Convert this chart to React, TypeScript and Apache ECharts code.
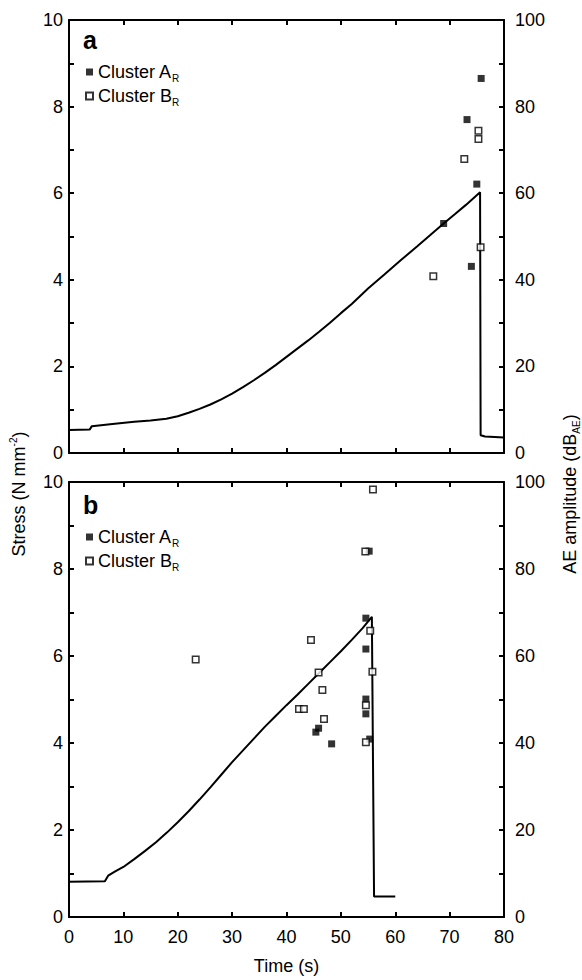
import React, { useEffect, useRef } from "react";
import * as echarts from "echarts";

// Panel a: stress–time curve (left axis, N mm^-2)
const timeA = [0, 3.8, 4.2, 8, 12, 15, 17.9, 20, 22, 24, 26, 28, 30, 32, 34, 36, 38, 40, 42, 44, 46, 48, 50, 52, 55, 58, 61, 64, 66.5, 68.9, 71, 73, 75.6, 75.7, 76.5, 80];
const stressA = [0.53, 0.54, 0.62, 0.67, 0.72, 0.75, 0.79, 0.85, 0.93, 1.02, 1.12, 1.24, 1.37, 1.52, 1.68, 1.85, 2.03, 2.22, 2.41, 2.6, 2.8, 3.01, 3.23, 3.44, 3.8, 4.12, 4.45, 4.77, 5.04, 5.3, 5.52, 5.73, 6.02, 0.41, 0.38, 0.36];

// Panel a: AE hits (right axis, dB_AE)
const clusterA_a = [[75.8, 86.5], [73.2, 77.0], [75.0, 62.1], [68.9, 53.0], [74.0, 43.1]];
const clusterB_a = [[75.3, 74.4], [75.3, 72.5], [72.7, 67.9], [75.7, 47.5], [67.0, 40.8]];

// Panel b: stress–time curve
const timeB = [0, 6.6, 7.2, 8.5, 10, 12, 14, 16, 18, 20, 22, 24, 26, 28, 30, 32, 34, 36, 38, 40, 42, 44, 46, 48, 50, 52, 54, 55.7, 56.1, 57, 60];
const stressB = [0.81, 0.82, 0.95, 1.05, 1.15, 1.33, 1.52, 1.72, 1.94, 2.18, 2.43, 2.7, 2.98, 3.27, 3.56, 3.83, 4.1, 4.37, 4.62, 4.87, 5.11, 5.36, 5.61, 5.86, 6.11, 6.37, 6.64, 6.9, 0.47, 0.47, 0.47];

// Panel b: AE hits
const clusterA_b = [[55.2, 84.1], [54.6, 68.7], [54.6, 61.6], [54.6, 50.1], [54.6, 46.7], [55.3, 40.9], [45.9, 43.4], [45.4, 42.5], [48.3, 39.8]];
const clusterB_b = [[55.9, 98.3], [54.5, 84.0], [55.4, 65.8], [55.8, 56.4], [44.5, 63.7], [45.9, 56.2], [46.6, 52.2], [42.3, 47.8], [43.2, 47.8], [46.9, 45.5], [54.6, 48.7], [54.6, 40.2], [23.3, 59.2]];

const FONT = "'Liberation Sans', Arial, sans-serif";

const zip = (xs: number[], ys: number[]) => xs.map((x, i) => [x, ys[i]]);

export default function App() {
  const ref = useRef<HTMLDivElement>(null);
  useEffect(() => {
    document.body.style.margin = "0";
    if (!ref.current) return;
    const chart = echarts.init(ref.current, undefined, { renderer: "svg" });

    const axisLine = { show: true, onZero: false, lineStyle: { color: "#000", width: 2 } };
    const axisTick = { show: true, inside: true, length: 5, lineStyle: { color: "#000", width: 2 } };
    const lbl = { color: "#000", fontSize: 18, fontFamily: FONT };

    const xAx = (grid: number, pos: string, labels: boolean, name?: string) => ({
      type: "value",
      gridIndex: grid,
      position: pos,
      min: 0,
      max: 80,
      interval: 10,
      axisLine,
      axisTick,
      splitLine: { show: false },
      axisLabel: { show: labels, margin: 11, ...lbl },
      name: name,
      nameLocation: "middle",
      nameGap: 40,
      nameTextStyle: { ...lbl },
    });
    const yLeft = (grid: number) => ({
      type: "value",
      gridIndex: grid,
      position: "left",
      min: 0,
      max: 10,
      interval: 1,
      axisLine,
      axisTick,
      splitLine: { show: false },
      axisLabel: {
        margin: 6,
        ...lbl,
        showMinLabel: true,
        showMaxLabel: true,
        formatter: (v: number) => (Math.round(v) % 2 === 0 ? String(Math.round(v)) : ""),
      },
    });
    const yRight = (grid: number) => ({
      type: "value",
      gridIndex: grid,
      position: "right",
      min: 0,
      max: 100,
      interval: 10,
      axisLine,
      axisTick,
      splitLine: { show: false },
      axisLabel: {
        margin: 11,
        ...lbl,
        showMinLabel: true,
        showMaxLabel: true,
        formatter: (v: number) => (Math.round(v) % 20 === 0 ? String(Math.round(v)) : ""),
      },
    });

    const filled = { color: "#000" };
    const open = { color: "#fff", borderColor: "#000", borderWidth: 1.5 };
    const subRich = {
      sub: { fontSize: 10, lineHeight: 10, verticalAlign: "bottom", fontFamily: FONT, color: "#000" },
    };
    const legend = (top: number, a: string, b: string) => ({
      orient: "vertical",
      left: 85,
      top,
      padding: 0,
      itemGap: 2,
      itemWidth: 7,
      itemHeight: 7,
      data: [a, b],
      formatter: (n: string) => (n.startsWith("A") ? "Cluster A{sub|R}" : "Cluster B{sub|R}"),
      textStyle: { color: "#000", fontSize: 18, lineHeight: 22, fontFamily: FONT, rich: subRich },
    });

    const option: any = {
      animation: false,
      backgroundColor: "#fff",
      grid: [
        { left: 69, top: 20, width: 435, height: 433 },
        { left: 69, top: 482, width: 435, height: 435 },
      ],
      xAxis: [xAx(0, "bottom", false), xAx(0, "top", false), xAx(1, "bottom", true, "Time (s)"), xAx(1, "top", false)],
      yAxis: [yLeft(0), yRight(0), yLeft(1), yRight(1)],
      legend: [legend(61, "A_a", "B_a"), legend(526, "A_b", "B_b")],
      graphic: [
        { type: "text", x: 83, y: 40, style: { text: "a", fontSize: 25, fontWeight: "bold", fontFamily: FONT, fill: "#000", verticalAlign: "middle" } },
        { type: "text", x: 83, y: 505, style: { text: "b", fontSize: 25, fontWeight: "bold", fontFamily: FONT, fill: "#000", verticalAlign: "middle" } },
        {
          type: "text",
          x: 19,
          y: 494,
          rotation: Math.PI / 2,
          style: {
            text: "Stress (N mm{sup|-2})",
            fontSize: 18,
            fontFamily: FONT,
            fill: "#000",
            align: "center",
            verticalAlign: "middle",
            lineHeight: 22,
            rich: { sup: { fontSize: 10, lineHeight: 10, verticalAlign: "top", fontFamily: FONT, fill: "#000" } },
          },
        },
        {
          type: "text",
          x: 570,
          y: 494,
          rotation: Math.PI / 2,
          style: {
            text: "AE amplitude (dB{sub|AE})",
            fontSize: 18,
            fontFamily: FONT,
            fill: "#000",
            align: "center",
            verticalAlign: "middle",
            lineHeight: 22,
            rich: { sub: { fontSize: 10, lineHeight: 10, verticalAlign: "bottom", fontFamily: FONT, fill: "#000" } },
          },
        },
      ],
      series: [
        {
          type: "line",
          xAxisIndex: 0,
          yAxisIndex: 0,
          data: zip(timeA, stressA),
          showSymbol: false,
          lineStyle: { color: "#000", width: 2 },
          z: 2,
        },
        { name: "A_a", type: "scatter", xAxisIndex: 0, yAxisIndex: 1, symbol: "rect", symbolSize: 7, itemStyle: filled, data: clusterA_a, z: 3 },
        { name: "B_a", type: "scatter", xAxisIndex: 0, yAxisIndex: 1, symbol: "rect", symbolSize: 6.5, itemStyle: open, data: clusterB_a, z: 3 },
        {
          type: "line",
          xAxisIndex: 2,
          yAxisIndex: 2,
          data: zip(timeB, stressB),
          showSymbol: false,
          lineStyle: { color: "#000", width: 2 },
          z: 2,
        },
        { name: "A_b", type: "scatter", xAxisIndex: 2, yAxisIndex: 3, symbol: "rect", symbolSize: 7, itemStyle: filled, data: clusterA_b, z: 3 },
        { name: "B_b", type: "scatter", xAxisIndex: 2, yAxisIndex: 3, symbol: "rect", symbolSize: 6.5, itemStyle: open, data: clusterB_b, z: 3 },
      ],
    };
    chart.setOption(option);
    return () => chart.dispose();
  }, []);
  return <div ref={ref} style={{ width: 582, height: 980 }} />;
}
